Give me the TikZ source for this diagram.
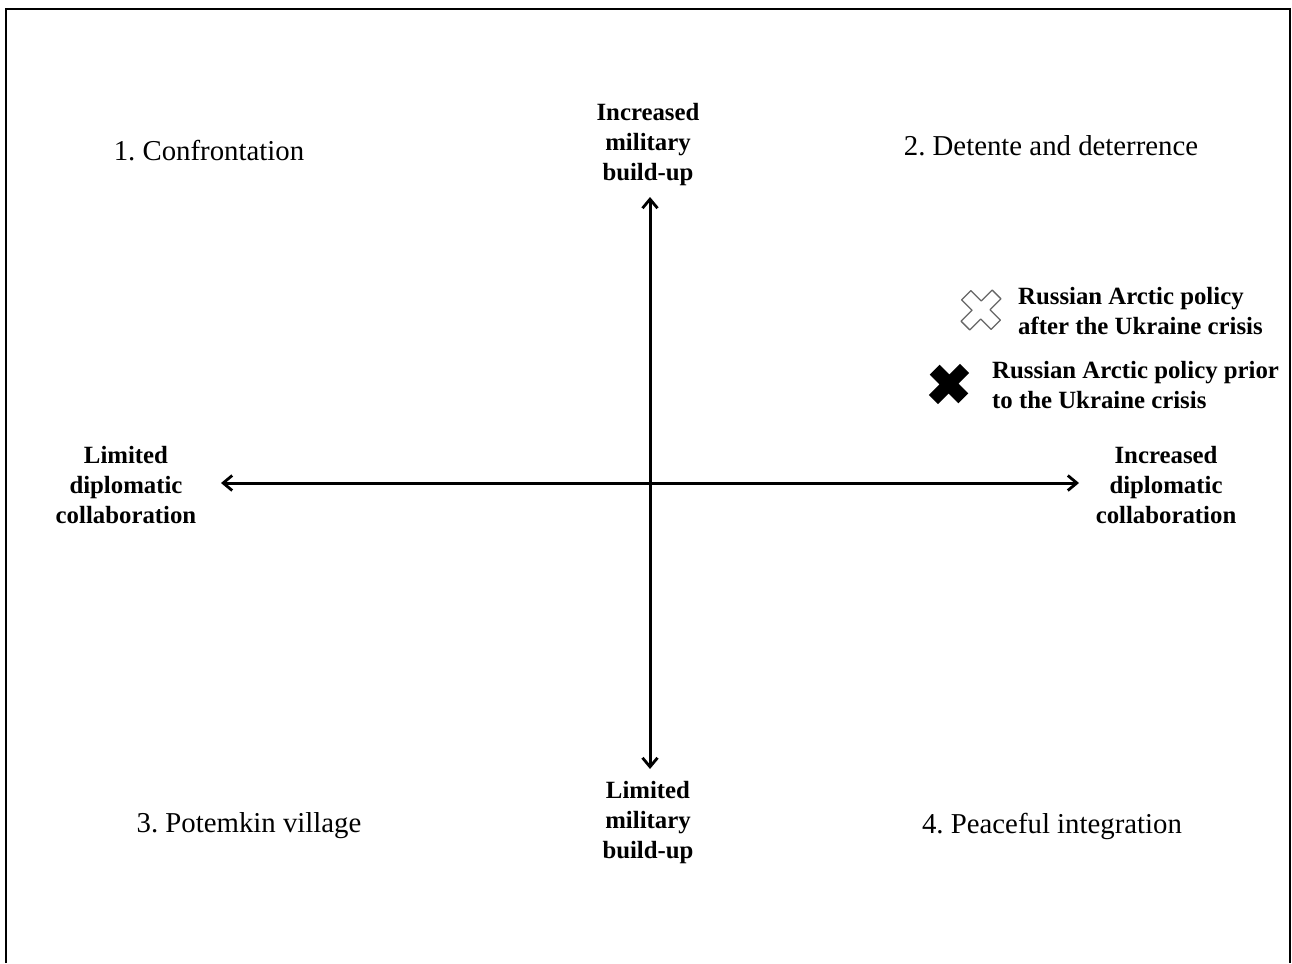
\documentclass[tikz,border=0pt]{standalone}
\usepackage{fontspec}
\setmainfont{Liberation Serif}
\usetikzlibrary{arrows.meta}
\frenchspacing
\begin{document}
\begin{tikzpicture}[x=1pt,y=-1pt,
  axis/.style={line width=3pt,-{Straight Barb[length=9pt,width=15pt,line width=2.8pt]}},
  quad/.style={font=\fontsize{28.8}{30}\selectfont,inner sep=0pt},
  axlabel/.style={font=\fontsize{24.8}{30}\selectfont\bfseries,align=center,inner sep=0pt},
  legend/.style={font=\fontsize{24.8}{30}\selectfont\bfseries,align=left,inner sep=0pt,anchor=west},
  crossshape/.style={line width=1.3pt,line join=round}]
\useasboundingbox (0,0) rectangle (1292,963);
\fill[white] (0,0) rectangle (1292,963);
% frame (open at bottom)
\draw[line width=2pt] (6,963) -- (6,9) -- (1290,9) -- (1290,963);
% axes
\coordinate (o) at (650,483);
\coordinate (top) at (650,197);
\coordinate (bot) at (650,769);
\coordinate (lft) at (221,483);
\coordinate (rgt) at (1079,483);
\draw[axis] (o) -- (top);
\draw[axis] (o) -- (bot);
\draw[axis] (o) -- (lft);
\draw[axis] (o) -- (rgt);
% quadrant labels
\node[quad] (q1) at (209,151) {1. Confrontation};
\node[quad] (q2) at (1051,146) {2. Detente and deterrence};
\node[quad] (q3) at (249,826) {3. Potemkin village};
\node[quad] (q4) at (1052,826) {4. Peaceful integration};
% axis labels
\node[axlabel] (lt) at (648,145) {Increased\\military\\build-up};
\node[axlabel] (lb) at (648,823) {Limited\\military\\build-up};
\node[axlabel] (ll) at (126,485) {Limited\\diplomatic\\collaboration};
\node[axlabel] (lr) at (1166,485) {Increased\\diplomatic\\collaboration};
% legend
\node[legend] (la) at (1018,311) {Russian Arctic policy\\after the Ukraine crisis};
\node[legend] (lp) at (992,385) {Russian Arctic policy prior\\to the Ukraine crisis};
% markers
\begin{scope}[shift={(981,310)},rotate=45,yscale=0.95]
\draw[crossshape,draw=black!60,fill=white]
  (-22,-6.5) -- (-6.5,-6.5) -- (-6.5,-22) -- (6.5,-22) -- (6.5,-6.5) -- (22,-6.5)
  -- (22,6.5) -- (6.5,6.5) -- (6.5,22) -- (-6.5,22) -- (-6.5,6.5) -- (-22,6.5) -- cycle;
\end{scope}
\begin{scope}[shift={(949,384)},rotate=45,yscale=0.92]
\fill[black]
  (-22,-7) -- (-7,-7) -- (-7,-22) -- (7,-22) -- (7,-7) -- (22,-7)
  -- (22,7) -- (7,7) -- (7,22) -- (-7,22) -- (-7,7) -- (-22,7) -- cycle;
\end{scope}
\end{tikzpicture}
\end{document}
